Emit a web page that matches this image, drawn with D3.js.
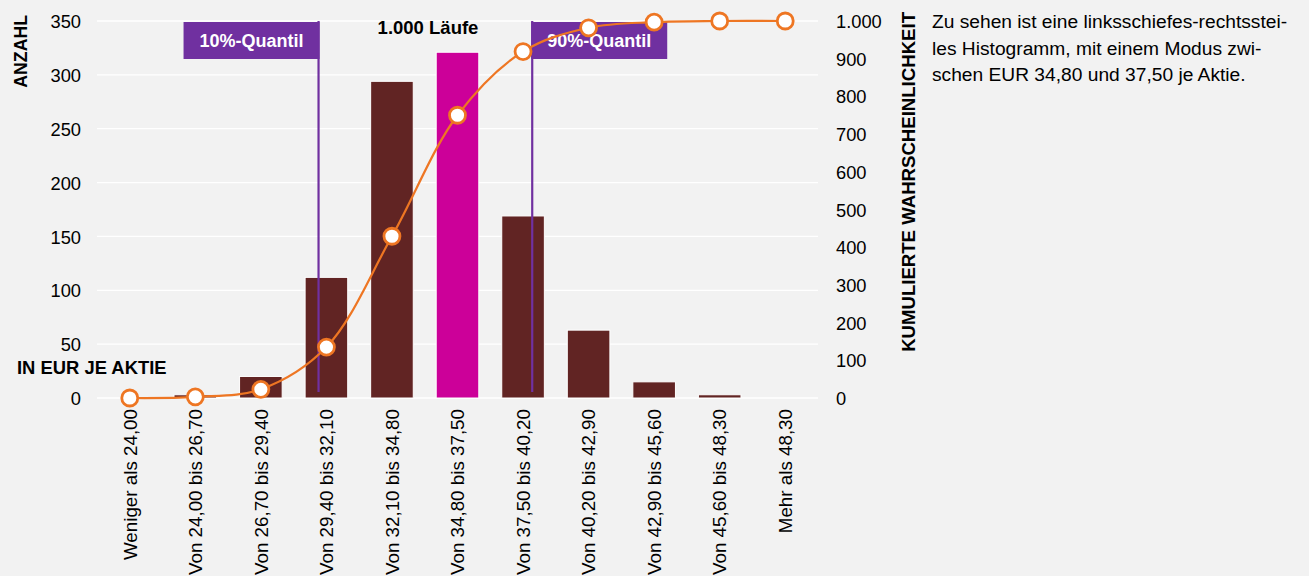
<!DOCTYPE html>
<html><head><meta charset="utf-8">
<script src="https://cdn.jsdelivr.net/npm/d3@7"></script>
<style>
body{margin:0;background:#F2F2F2;font-family:"Liberation Sans",Arial,sans-serif;}
svg{display:block;}
</style></head><body>
<svg id="c" width="1309" height="576"></svg>
<script>
const categories = ["Weniger als 24,00","Von 24,00 bis 26,70","Von 26,70 bis 29,40","Von 29,40 bis 32,10","Von 32,10 bis 34,80","Von 34,80 bis 37,50","Von 37,50 bis 40,20","Von 40,20 bis 42,90","Von 42,90 bis 45,60","Von 45,60 bis 48,30","Mehr als 48,30"];
const counts = [0,3,20,112,294,321,169,63,15,3,0];
const highlightIndex = 5;
const leftTicks = [0,50,100,150,200,250,300,350];
const rightTicks = [0,100,200,300,400,500,600,700,800,900,1000];
const quantiles = [{label:"10%-Quantil", pos:2.88, side:"left"},{label:"90%-Quantil", pos:6.14, side:"right"}];
const runsLabel = "1.000 Läufe";
const note = ["Zu sehen ist eine linksschiefes-rechtsstei-","les Histogramm, mit einem Modus zwi-","schen EUR 34,80 und 37,50 je Aktie."];

const cumulative = Array.from(d3.cumsum(counts));
const de = d3.formatLocale({decimal:",",thousands:".",grouping:[3],currency:["","€"]});
const fmt = de.format(",d");

const svg = d3.select("#c");
const L = 97, R = 818, T = 21, B = 398;
const x = d3.scaleBand().domain(categories).range([L,R]).paddingInner(0.35).paddingOuter(0.175);
const xi = d3.scaleLinear().domain([0,categories.length-1]).range([x(categories[0])+x.bandwidth()/2, x(categories[categories.length-1])+x.bandwidth()/2]);
const yL = d3.scaleLinear().domain([0,350]).range([B,T]);
const yR = d3.scaleLinear().domain([0,1000]).range([B,T]);

// gridlines
svg.append("g").selectAll("line").data(leftTicks).join("line")
  .attr("x1",L).attr("x2",R).attr("y1",d=>yL(d)).attr("y2",d=>yL(d))
  .attr("stroke","#ffffff").attr("stroke-width",1.3);

// axes
const ax = d3.axisLeft(yL).tickValues(leftTicks).tickSize(0).tickPadding(0).tickFormat(fmt);
svg.append("g").attr("transform",`translate(81,0)`).call(ax)
  .call(g=>g.select(".domain").remove())
  .selectAll("text").attr("font-size",18.3).attr("font-family","Liberation Sans, Arial").attr("fill","#000").attr("dy","0.36em");
const axR = d3.axisRight(yR).tickValues(rightTicks).tickSize(0).tickPadding(0).tickFormat(fmt);
svg.append("g").attr("transform",`translate(836,0)`).call(axR)
  .call(g=>g.select(".domain").remove())
  .selectAll("text").attr("font-size",18.3).attr("font-family","Liberation Sans, Arial").attr("fill","#000").attr("dy","0.36em");

// bars
svg.append("g").selectAll("rect").data(counts).join("rect")
  .attr("x",(d,i)=>x(categories[i])).attr("width",x.bandwidth())
  .attr("y",d=>yL(d)).attr("height",d=>B-yL(d))
  .attr("fill",(d,i)=>i===highlightIndex?"#CC0099":"#612423")
  .attr("stroke","#ffffff").attr("stroke-width",(d)=>d>0?1:0);

// quantile lines
const qg = svg.append("g");
quantiles.forEach(q=>{
  const qx = xi(q.pos);
  qg.append("line").attr("x1",qx).attr("x2",qx).attr("y1",T).attr("y2",392)
    .attr("stroke","#7030A0").attr("stroke-width",2.2);
  const w = 136, h = 37;
  const bx = q.side==="left" ? qx - w + 1 : qx - 1;
  qg.append("rect").attr("x",bx).attr("y",T+1).attr("width",w).attr("height",h).attr("fill","#7030A0");
  qg.append("text").attr("x",bx+w/2).attr("y",T+1+h/2).attr("dy","0.36em")
    .attr("text-anchor","middle").attr("fill","#fff").attr("font-weight","bold").attr("font-size",18).text(q.label);
});

// cumulative line
const line = d3.line().x((d,i)=>xi(i)).y(d=>yR(d)).curve(d3.curveCatmullRom.alpha(0.5));
svg.append("path").datum(cumulative).attr("d",line).attr("fill","none").attr("stroke","#EE7623").attr("stroke-width",2.2);
svg.append("g").selectAll("circle").data(cumulative).join("circle")
  .attr("cx",(d,i)=>xi(i)).attr("cy",d=>yR(d)).attr("r",8)
  .attr("fill","#fff").attr("stroke","#EE7623").attr("stroke-width",2.8);

// x labels
svg.append("g").selectAll("text").data(categories).join("text")
  .attr("transform",(d)=>`translate(${x(d)+x.bandwidth()/2},409) rotate(-90)`)
  .attr("text-anchor","end").attr("dy","0.36em").attr("font-size",18.8).attr("fill","#000").text(d=>d);

// titles
svg.append("text").attr("transform","translate(27,15) rotate(-90)").attr("text-anchor","end")
  .attr("font-weight","bold").attr("font-size",17.7).text("ANZAHL");
svg.append("text").attr("transform","translate(915,12) rotate(-90)").attr("text-anchor","end")
  .attr("font-weight","bold").attr("font-size",18.6).text("KUMULIERTE WAHRSCHEINLICHKEIT");
svg.append("text").attr("x",17).attr("y",374).attr("font-weight","bold").attr("font-size",18.4).text("IN EUR JE AKTIE");
svg.append("text").attr("x",428).attr("y",34).attr("text-anchor","middle").attr("font-weight","bold").attr("font-size",18.5).text(runsLabel);

svg.append("g").selectAll("text").data(note).join("text")
  .attr("x",932).attr("y",(d,i)=>28+i*26.5).attr("font-size",19.2).attr("fill","#000").text(d=>d);
</script></body></html>
